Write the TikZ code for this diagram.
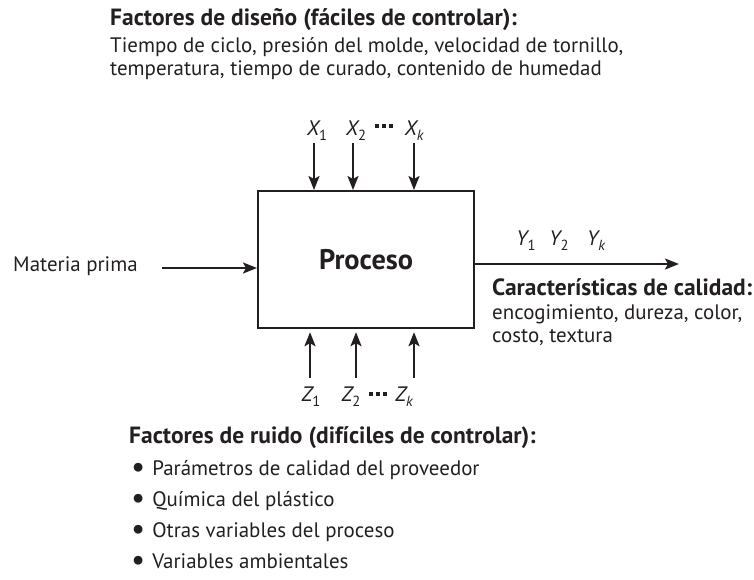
\documentclass[tikz,border=0pt]{standalone}
\usepackage{fontspec}
\setmainfont{PT Sans}
\usetikzlibrary{arrows.meta}
\definecolor{ink}{HTML}{231F20}
\newlength\mylen
\begin{document}
\settowidth\mylen{\fontsize{10}{12}\selectfont Tiempo de ciclo, presión del molde, velocidad de tornillo,}
\pgfmathsetmacro\fsr{10*513/\mylen}
\settowidth\mylen{\fontsize{10}{12}\selectfont\bfseries Características de calidad:}
\pgfmathsetmacro\fsb{10*260/\mylen}
\settowidth\mylen{\fontsize{10}{12}\selectfont\bfseries Proceso}
\pgfmathsetmacro\fsp{10*94/\mylen}
\pgfmathsetmacro\fss{0.7*\fsr}
\pgfmathsetmacro\fsbul{1.5*\fsr}
\newcommand\lowidx[1]{\raisebox{-0.25em}{\fontsize{\fss}{\fss}\selectfont #1}}
\newcommand\sqdots{\rule{3.6pt}{3.6pt}\hspace{3.4pt}\rule{3.6pt}{3.6pt}\hspace{3.4pt}\rule{3.6pt}{3.6pt}}
\newcommand\bul{\smash{\raisebox{-0.1em}{\fontsize{\fsbul}{\fsbul}\selectfont\textbullet}}\hspace{7pt}}
\begin{tikzpicture}[x=1pt,y=-1pt,
  txt/.style={font=\fontsize{\fsr}{\fsr}\selectfont, text=ink, inner sep=0pt, anchor=base west},
  btxt/.style={font=\fontsize{\fsb}{\fsb}\selectfont\bfseries, text=ink, inner sep=0pt, anchor=base west},
  var/.style={txt, anchor=base},
  dots/.style={text=ink, inner sep=0pt, anchor=center},
  arr/.style={draw=ink, line width=2.2pt, -{Stealth[length=14pt,width=11pt,inset=3pt]}},
  procbox/.style={draw=ink, line width=2.2pt, minimum width=216pt, minimum height=137pt, inner sep=0pt, anchor=north west,
    font=\fontsize{\fsp}{\fsp}\selectfont\bfseries, text=ink}]
\useasboundingbox (0,0) rectangle (754,579);
% top text
\node[btxt] (dtitle) at (110,25) {Factores de diseño (fáciles de controlar):};
\node[txt] (dl1) at (110,52) {Tiempo de ciclo, presión del molde, velocidad de tornillo,};
\node[txt] (dl2) at (110,75) {temperatura, tiempo de curado, contenido de humedad};
% process box
\node[procbox] (box) at (257,190) {Proceso};
% X inputs
\coordinate (x1s) at (314,143);
\coordinate (x2s) at (353,143);
\coordinate (xks) at (414,143);
\draw[arr] (x1s) -- (x1s |- box.north);
\draw[arr] (x2s) -- (x2s |- box.north);
\draw[arr] (xks) -- (xks |- box.north);
\node[var] (X1) at (317,135) {\itshape X\lowidx{\upshape 1}};
\node[var] (X2) at (356,135) {\itshape X\lowidx{\upshape 2}};
\node[dots] (Xd) at (384,126) {\sqdots};
\node[var] (Xk) at (414,135) {\itshape X\lowidx{k}};
% Z inputs
\coordinate (z1s) at (310,378);
\coordinate (z2s) at (356,378);
\coordinate (zks) at (414,378);
\draw[arr, shorten >=3pt] (z1s) -- (z1s |- box.south);
\draw[arr, shorten >=3pt] (z2s) -- (z2s |- box.south);
\draw[arr, shorten >=3pt] (zks) -- (zks |- box.south);
\node[var] (Z1) at (311,401) {\itshape Z\lowidx{\upshape 1}};
\node[var] (Z2) at (351,401) {\itshape Z\lowidx{\upshape 2}};
\node[dots] (Zd) at (378,394) {\sqdots};
\node[var] (Zk) at (404,401) {\itshape Z\lowidx{k}};
% left input
\node[txt] (mp) at (13,271) {Materia prima};
\coordinate (mps) at (162,268);
\draw[arr] (mps) -- (mps -| box.west);
% output
\coordinate (oute) at (679,264);
\draw[arr] (oute -| box.east) -- (oute);
\node[var] (Y1) at (526,245) {\itshape Y\lowidx{\upshape 1}};
\node[var] (Y2) at (559,245) {\itshape Y\lowidx{\upshape 2}};
\node[var] (Yk) at (596,245) {\itshape Y\lowidx{k}};
\node[btxt] (ctitle) at (492,295) {Características de calidad:};
\node[txt] (cl1) at (492,319) {encogimiento, dureza, color,};
\node[txt] (cl2) at (492,342) {costo, textura};
% noise factors
\node[btxt] (ntitle) at (129,443) {Factores de ruido (difíciles de controlar):};
\node[txt] (n1) at (131,475) {\bul Parámetros de calidad del proveedor};
\node[txt] (n2) at (131,506) {\bul Química del plástico};
\node[txt] (n3) at (131,537) {\bul Otras variables del proceso};
\node[txt] (n4) at (131,568) {\bul Variables ambientales};
\end{tikzpicture}
\end{document}
